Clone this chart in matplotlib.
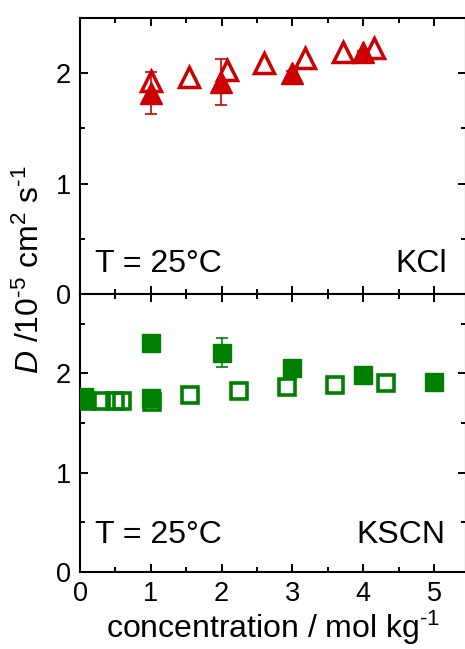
import matplotlib
matplotlib.use("Agg")
import matplotlib.pyplot as plt
from matplotlib.ticker import MultipleLocator

plt.rcParams['font.family'] = ['Liberation Sans', 'DejaVu Sans']
plt.rcParams['mathtext.fontset'] = 'custom'
plt.rcParams['mathtext.rm'] = 'Liberation Sans'
plt.rcParams['mathtext.it'] = 'Liberation Sans:italic'
plt.rcParams['axes.unicode_minus'] = False

# KCl data
kcl_open_x = [1.0, 1.535, 2.08, 2.60, 3.175, 3.71, 4.15]
kcl_open_y = [1.925, 1.97, 2.03, 2.09, 2.14, 2.19, 2.23]
kcl_fill_x = [1.0, 1.99, 2.99, 4.0]
kcl_fill_y = [1.82, 1.92, 2.00, 2.19]
kcl_fill_err = [0.19, 0.21, 0.02, 0.01]

# KSCN data
kscn_open_x = [0.05, 0.1, 0.3, 0.5, 0.6, 1.02, 1.56, 2.25, 2.92, 3.60, 4.32]
kscn_open_y = [1.73, 1.72, 1.72, 1.72, 1.72, 1.71, 1.78, 1.82, 1.865, 1.88, 1.90]
kscn_fill_x = [0.05, 1.0, 1.0, 2.0, 3.0, 4.0, 5.0]
kscn_fill_y = [1.76, 1.75, 2.31, 2.21, 2.05, 1.98, 1.915]
kscn_fill_err = [0.0, 0.0, 0.02, 0.146, 0.02, 0.01, 0.01]

red = '#cc0000'
green = '#008000'

fig = plt.figure(figsize=(4.65, 6.49), dpi=100)
left = 80 / 465
width = 1.0 - left + 0.002
ax1 = fig.add_axes([left, 1 - 294 / 649, width, (294 - 18) / 649])
ax2 = fig.add_axes([left, 1 - 572 / 649, width, (572 - 294) / 649])

for ax in (ax1, ax2):
    ax.set_xlim(0, 5.45)
    ax.xaxis.set_major_locator(MultipleLocator(1))
    ax.xaxis.set_minor_locator(MultipleLocator(0.5))
    ax.yaxis.set_major_locator(MultipleLocator(1))
    ax.yaxis.set_minor_locator(MultipleLocator(0.5))
    ax.tick_params(which='both', direction='in', top=True, right=True, width=1.4)
    ax.tick_params(which='major', length=6, labelsize=19.5, pad=6.5)
    ax.tick_params(which='minor', length=3.5)
    for s in ax.spines.values():
        s.set_linewidth(1.5)

ax1.set_ylim(0, 2.5)
ax2.set_ylim(0, 2.8)
ax1.tick_params(labelbottom=False)

# top panel
ax1.plot(kcl_open_x, kcl_open_y, linestyle='none', marker='^', ms=14.5,
         mfc='none', mec=red, mew=2.5, zorder=3)
ax1.errorbar(kcl_fill_x, kcl_fill_y, yerr=kcl_fill_err, fmt='^', ms=16,
             color=red, mec=red, ecolor=red, elinewidth=1.2, capsize=4,
             capthick=1.2, zorder=4)
ax1.text(15 / 385, 0.081, 'T = 25°C', transform=ax1.transAxes, fontsize=23,
         ha='left', va='baseline')
ax1.text(0.952, 0.081, 'KCl', transform=ax1.transAxes, fontsize=23,
         ha='right', va='baseline')

# bottom panel
ax2.plot(kscn_open_x, kscn_open_y, linestyle='none', marker='s', ms=11,
         mfc='none', mec=green, mew=2.6, zorder=3)
ax2.errorbar(kscn_fill_x, kscn_fill_y, yerr=kscn_fill_err, fmt='s', ms=12.5,
             color=green, mec=green, ecolor=green, elinewidth=1.2, capsize=4,
             capthick=1.2, zorder=4)
ax2.text(15 / 385, 0.103, 'T = 25°C', transform=ax2.transAxes, fontsize=23,
         ha='left', va='baseline')
ax2.text(0.948, 0.103, 'KSCN', transform=ax2.transAxes, fontsize=23,
         ha='right', va='baseline')

ax2.set_xlabel('concentration / mol kg$^{\u2010 1}$', fontsize=23, labelpad=1)
fig.text(30 / 465, 1 - 270 / 649,
         '$\\it{D}$ /10$^{\u20105}$ cm$^{2}$ s$^{\u20101}$',
         rotation=90, fontsize=23, ha='center', va='center')

fig.savefig('out.png', dpi=100)
